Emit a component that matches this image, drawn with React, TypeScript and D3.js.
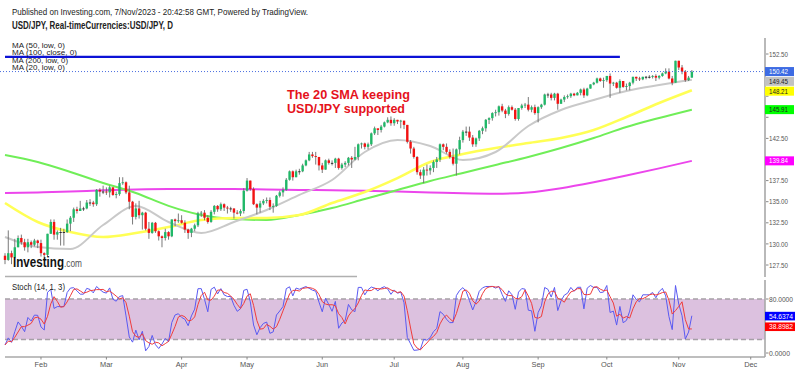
import React, { useEffect, useRef } from 'react'
import * as d3 from 'd3'

// Daily USD/JPY candles, 17 Jan 2023 .. 7 Nov 2023 (weekdays). Open = previous close.
const firstOpen = 128.6
const closes = [
  128.1, 128.9, 128.4, 129.6, 130.7, 130.2, 129.6, 130.2, 129.9, 130.4, 130.1,
  128.9, 128.7, 131.2, 132.6, 131.1, 131.4, 131.4, 131.4, 132.4, 133.1, 134.1, 133.9, 134.2, 134.2, 134.9, 134.9, 134.7, 136.4, 136.2, 136.2,
  136.1, 136.7, 135.8, 135.9, 137.2, 137.3, 136.1, 135.0, 133.2, 134.2, 133.4, 133.7, 131.8, 131.3, 132.5, 131.5, 130.9, 130.7, 131.4, 130.9, 132.9, 132.7, 132.8,
  132.5, 131.7, 131.3, 131.8, 132.2, 133.6, 133.7, 133.1, 132.6, 133.8, 134.5, 134.1, 134.7, 134.3, 134.2, 134.2, 133.7, 133.6, 133.9, 136.3,
  137.5, 136.5, 134.7, 134.3, 134.8, 135.1, 135.2, 134.4, 134.5, 135.7, 136.1, 136.4, 137.6, 138.6, 137.9, 138.6, 138.6, 139.3, 139.9, 140.6, 140.4, 140.3, 139.3,
  138.8, 139.9, 139.6, 139.6, 140.1, 139.0, 139.4, 139.6, 140.2, 140.0, 140.3, 141.8, 141.9, 141.5, 141.8, 143.1, 143.7, 143.5, 143.9, 144.4, 144.7, 144.3,
  144.7, 144.5, 144.6, 144.1, 142.1, 141.3, 140.3, 138.5, 138.1, 138.8, 138.7, 139.0, 139.7, 140.0, 141.8, 141.5, 140.9, 140.3, 139.5, 141.2, 142.3,
  143.3, 143.3, 142.6, 141.8, 142.5, 143.4, 143.7, 144.7, 144.9, 145.5, 145.6, 146.3, 145.8, 145.4, 146.2, 145.9, 144.8, 146.1, 146.4, 146.5, 145.9, 146.2, 145.5,
  146.2, 146.5, 147.7, 147.7, 147.3, 147.8, 146.6, 147.1, 147.4, 147.5, 147.8, 147.6, 147.9, 148.3, 147.6, 148.4, 148.9, 149.1, 149.6, 149.3, 149.4,
  149.9, 149.0, 149.1, 148.5, 149.3, 148.6, 148.7, 149.1, 149.8, 149.6, 149.5, 149.8, 149.8, 149.8, 149.9, 149.7, 149.9, 150.2, 150.4, 149.6, 149.1, 151.7,
  150.9, 150.4, 149.4, 149.7, 150.4,
]
const highs = [
  128.9, 131.6, 129.2, 130.6, 131.0, 131.1, 130.6, 130.6, 130.4, 130.6, 130.5,
  130.5, 129.0, 131.2, 132.9, 132.9, 131.6, 131.9, 131.8, 132.9, 133.3, 134.3, 134.4, 135.1, 134.4, 135.2, 135.3, 135.1, 136.5, 136.6, 136.9,
  136.7, 136.9, 136.7, 136.2, 137.9, 137.9, 137.4, 136.9, 135.1, 134.8, 135.1, 133.8, 133.8, 132.6, 132.6, 132.6, 131.6, 131.0, 131.8, 131.5, 132.9, 133.0, 133.6,
  133.4, 132.8, 131.8, 131.9, 132.4, 133.8, 133.9, 134.0, 133.4, 134.0, 134.6, 134.6, 134.9, 134.8, 134.5, 134.4, 134.2, 134.0, 134.1, 136.6,
  137.8, 137.5, 136.7, 134.8, 135.1, 135.3, 135.5, 135.5, 134.8, 135.8, 136.3, 136.7, 137.8, 138.7, 138.7, 138.8, 138.9, 139.5, 140.0, 140.9, 140.9, 140.9, 140.3,
  139.6, 140.0, 140.1, 139.9, 140.2, 140.2, 139.6, 139.8, 140.3, 140.4, 141.5, 141.9, 142.0, 142.0, 142.0, 143.2, 143.9, 143.6, 144.1, 144.5, 145.0, 145.1,
  144.9, 144.7, 144.7, 144.6, 144.1, 142.3, 141.5, 140.4, 138.8, 139.1, 139.4, 139.3, 139.9, 140.3, 141.9, 141.9, 141.9, 141.2, 141.3, 141.3, 142.7,
  143.5, 143.9, 143.9, 142.9, 142.6, 143.5, 143.9, 144.8, 145.0, 145.6, 145.9, 146.4, 146.6, 146.0, 146.4, 146.4, 146.1, 146.1, 146.6, 146.7, 147.4, 146.4, 146.5,
  146.3, 146.6, 147.8, 147.9, 147.9, 147.9, 147.9, 147.2, 147.6, 147.7, 147.9, 147.9, 148.0, 148.4, 148.5, 148.5, 148.9, 149.2, 149.7, 149.7, 149.7,
  149.9, 150.2, 149.2, 149.2, 149.5, 149.3, 149.0, 149.2, 149.8, 149.8, 149.8, 149.8, 149.9, 150.0, 150.0, 150.1, 150.0, 150.3, 150.8, 150.8, 149.9, 151.7,
  151.7, 151.2, 150.6, 149.9, 150.6,
]
const lows = [
  127.6, 128.0, 127.6, 128.3, 129.6, 129.9, 129.2, 129.0, 129.5, 129.7, 129.5,
  128.5, 128.1, 128.5, 131.2, 130.5, 130.5, 129.8, 129.8, 131.3, 131.5, 132.6, 133.6, 133.9, 133.9, 134.1, 134.5, 134.4, 134.5, 135.6, 135.9,
  135.8, 135.5, 135.7, 135.4, 135.7, 137.0, 135.9, 134.1, 132.3, 132.9, 133.0, 131.7, 131.6, 130.6, 131.2, 131.3, 130.4, 129.6, 130.4, 130.5, 130.8, 132.1, 132.5,
  132.4, 131.3, 130.6, 130.8, 131.5, 132.0, 133.2, 132.8, 132.4, 132.5, 133.5, 133.8, 133.9, 133.9, 133.6, 133.8, 133.0, 133.5, 133.3, 133.6,
  136.2, 136.3, 134.6, 133.5, 133.7, 134.6, 134.8, 134.0, 133.7, 134.4, 135.5, 135.6, 136.3, 137.5, 137.5, 137.9, 138.2, 138.5, 139.2, 139.8, 140.2, 139.4, 138.7,
  138.4, 138.8, 139.4, 139.3, 139.0, 138.8, 138.8, 139.1, 139.3, 139.0, 139.9, 139.9, 141.3, 141.2, 141.2, 141.6, 142.9, 142.9, 143.2, 143.8, 144.3, 144.0,
  144.0, 144.2, 143.7, 143.6, 141.9, 140.7, 140.1, 138.2, 137.7, 137.2, 138.1, 138.2, 138.5, 139.0, 139.7, 141.1, 140.7, 140.1, 139.3, 138.1, 140.6,
  142.0, 142.8, 142.2, 141.5, 141.5, 142.2, 143.0, 143.3, 144.2, 144.6, 145.1, 145.2, 145.6, 144.9, 145.2, 145.8, 144.6, 144.6, 145.9, 146.1, 145.7, 145.6, 145.3,
  144.4, 146.0, 146.4, 147.3, 147.0, 147.0, 145.9, 146.6, 146.8, 147.2, 147.3, 147.5, 147.6, 147.6, 147.3, 147.5, 148.4, 148.8, 149.0, 149.2, 148.5,
  149.2, 147.3, 148.7, 148.4, 147.9, 148.5, 148.2, 148.2, 148.9, 149.3, 149.3, 149.4, 149.5, 149.6, 149.6, 149.3, 149.5, 149.8, 150.1, 149.5, 148.8, 149.1,
  150.6, 150.1, 149.2, 149.3, 149.7,
]

// 15 sessions before the first visible candle, only used to seed the stochastic
const preCloses = [133.5, 134.4, 133.0, 131.1, 130.7, 131.0, 132.4, 133.4, 132.1, 131.9, 132.3, 132.4, 129.2, 127.9, 128.6]
const preHighs = [133.6, 134.5, 134.3, 133.0, 131.4, 131.5, 132.7, 134.0, 134.8, 132.7, 132.4, 132.9, 132.4, 129.3, 128.9]
const preLows = [132.6, 133.2, 132.6, 130.8, 129.5, 129.5, 129.9, 132.1, 132.0, 131.5, 131.6, 131.8, 128.9, 127.5, 127.2]

// moving averages every 10 sessions
const maIndex = [0, 10, 20, 30, 40, 50, 60, 70, 80, 90, 100, 110, 120, 130, 140, 150, 160, 170, 180, 190, 200, 210]
const ma20 = [130.82, 129.63, 129.4, 132.24, 134.49, 132.6, 131.29, 132.6, 134.02, 135.8, 137.57, 140.89, 142.31, 141.6, 139.94, 140.89, 143.97, 145.87, 147.05, 148.12, 148.83, 149.45]
const ma50 = [134.85, 132.6, 131.41, 130.82, 131.29, 132.0, 132.83, 133.07, 133.07, 133.42, 134.85, 136.15, 137.8, 139.7, 140.65, 141.36, 141.95, 142.55, 143.5, 145.04, 146.7, 148.21]
const ma100 = [140.53, 139.7, 138.52, 137.22, 136.03, 134.5, 133.42, 132.95, 132.83, 133.42, 134.25, 135.32, 136.39, 137.45, 138.4, 139.35, 140.3, 141.36, 142.55, 143.85, 144.92, 145.91]
const ma200 = [136.03, 136.1, 136.2, 136.35, 136.45, 136.5, 136.5, 136.5, 136.45, 136.4, 136.35, 136.3, 136.2, 136.1, 136.0, 135.95, 136.1, 136.6, 137.3, 138.1, 138.95, 139.84]

const priceTicks = [127.5, 130, 132.5, 135, 137.5, 140, 142.5, 145, 147.5, 150, 152.5]
const stochTicks = [0, 80]
const monthLabels = ['Feb', 'Mar', 'Apr', 'May', 'Jun', 'Jul', 'Aug', 'Sep', 'Oct', 'Nov', 'Dec']

const lastPrice = 150.42
const resistance = 152.15
const resistanceEnd = 188
const tagValues = [150.42, 149.45, 148.21, 145.91, 139.84]
const tagFills = ['#3d6be3', '#c2c2c2', '#ffff00', '#00ff00', '#ff00ff']
const tagInks = ['#fff', '#222', '#222', '#222', '#fff']
const stochTagValues = [54.6374, 38.8982]
const stochTagFills = ['#0000ff', '#ff0000']

const legend = ['MA (50, low, 0)', 'MA (100, close, 0)', 'MA (200, low, 0)', 'MA (20, low, 0)']
const legendWidths = [53, 65, 56, 53]

const FONT = '"Liberation Sans", Arial, sans-serif'

function text(g: any, s: string, x: number, y: number, size: number, len?: number) {
  const t = g.append('text').attr('x', x).attr('y', y).style('font-size', size + 'px').text(s)
  if (len) t.attr('textLength', len).attr('lengthAdjust', 'spacingAndGlyphs')
  return t
}

export default function App() {
  const svgRef = useRef<SVGSVGElement>(null)

  useEffect(() => {
    if (!svgRef.current) return
    const svg = d3.select(svgRef.current)
    svg.selectAll('*').remove()

    const x = d3.scaleLinear().domain([0, 229]).range([5, 754])
    const y = d3.scaleLinear().domain([127.5, 152.5]).range([265, 54])
    const ys = d3.scaleLinear().domain([0, 80]).range([353, 299])
    const axisX = 765

    // trading days (weekdays) from the first candle to the end of the axis
    const days: Date[] = []
    for (let d = new Date(2023, 0, 17); d <= new Date(2023, 11, 8); d = d3.timeDay.offset(d, 1)) {
      if (d.getDay() !== 0 && d.getDay() !== 6) days.push(d)
    }

    svg.append('rect').attr('width', 800).attr('height', 371).attr('fill', '#fff')

    // header
    const head = svg.append('g').attr('fill', '#222')
    text(head, 'Published on Investing.com, 7/Nov/2023 - 20:42:58 GMT, Powered by TradingView.', 12, 14.5, 9.8, 296)
    text(head, 'USD/JPY, Real-timeCurrencies:USD/JPY, D', 12, 29.3, 10, 161).style('font-weight', '700')

    const defs = svg.append('defs')
    defs.append('clipPath').attr('id', 'plot').append('rect').attr('x', 0).attr('y', 36).attr('width', axisX).attr('height', 240)
    defs.append('clipPath').attr('id', 'stoch').append('rect').attr('x', 0).attr('y', 280).attr('width', axisX).attr('height', 77)

    const plot = svg.append('g').attr('clip-path', 'url(#plot)')

    // moving averages
    const maLine = d3.line<number>().x((_, i) => x(maIndex[i])).y(v => y(v)).curve(d3.curveMonotoneX)
    const maSeries: [number[], string, number][] = [
      [ma200, '#ec46ec', 2],
      [ma100, '#70ee58', 2],
      [ma50, '#ffff55', 2.6],
      [ma20, '#c9c9c9', 2],
    ]
    maSeries.forEach(([vals, color, w]) => {
      plot.append('path').attr('d', maLine(vals)).attr('fill', 'none').attr('stroke', color).attr('stroke-width', w)
    })

    // candles
    const candles = closes.map((c, i) => ({ i, o: i ? closes[i - 1] : firstOpen, h: highs[i], l: lows[i], c }))
    const colorOf = (d: any) => Math.abs(d.c - d.o) < 0.05 ? '#222' : d.c > d.o ? '#20b868' : '#f21212'
    plot.selectAll('line.wick').data(candles).join('line')
      .attr('x1', d => x(d.i)).attr('x2', d => x(d.i))
      .attr('y1', d => y(d.h)).attr('y2', d => y(d.l))
      .attr('stroke', '#6a6a6a').attr('stroke-width', 0.9)
    plot.selectAll('rect.body').data(candles).join('rect')
      .attr('x', d => x(d.i) - 1.2).attr('width', 2.4)
      .attr('y', d => y(Math.max(d.o, d.c)))
      .attr('height', d => Math.max(0.9, Math.abs(y(d.o) - y(d.c))))
      .attr('fill', colorOf)

    // resistance line and last price line
    plot.append('line').attr('x1', x(0)).attr('x2', x(resistanceEnd))
      .attr('y1', y(resistance)).attr('y2', y(resistance))
      .attr('stroke', '#0c12d6').attr('stroke-width', 2.2)
    svg.append('line').attr('x1', 0).attr('x2', axisX).attr('y1', y(lastPrice)).attr('y2', y(lastPrice))
      .attr('stroke', '#4b6fe0').attr('stroke-width', 1).attr('stroke-dasharray', '1,2')

    // legend
    const leg = svg.append('g').attr('fill', '#222')
    legend.forEach((s, i) => text(leg, s, 12, 47.5 + i * 7.6, 7.6, legendWidths[i]))

    // annotation
    const note = svg.append('g').attr('fill', '#e5121c').style('font-weight', '700')
    text(note, 'The 20 SMA keeping', 287, 99, 13.2, 123)
    text(note, 'USD/JPY supported', 287, 113, 13.2, 118)

    // watermark: one text, squeezed horizontally like the original
    const mark = svg.append('text').attr('transform', 'translate(13,267) scale(0.83,1)')
    mark.append('tspan').attr('fill', '#111').style('font-weight', '700').style('font-size', '14px').text('Investing')
    mark.append('tspan').attr('fill', '#555').style('font-size', '10px').text('.com')
    svg.append('line').attr('x1', 5).attr('x2', 357).attr('y1', 276.5).attr('y2', 276.5)
      .attr('stroke', '#b0b0b0').attr('stroke-width', 1.4)

    // price axis
    svg.append('line').attr('x1', axisX).attr('x2', axisX).attr('y1', 38).attr('y2', 277)
      .attr('stroke', '#a8a8a8').attr('stroke-width', 1.6)

    // value tags, pushed apart so they do not overlap
    const tagY: number[] = []
    let prev = -Infinity
    tagValues.forEach(v => {
      const cy = Math.max(y(v), prev + 9.8)
      prev = cy
      tagY.push(cy)
    })

    const pa = svg.append('g').attr('fill', '#555')
    priceTicks.forEach(v => {
      pa.append('line').attr('x1', axisX + 1).attr('x2', axisX + 3.5).attr('y1', y(v)).attr('y2', y(v)).attr('stroke', '#888')
      // labels sitting under a value tag are hidden, as in the original
      if (tagY.some(t => Math.abs(t - y(v)) < 8)) return
      text(pa, v.toFixed(2), 769, y(v) + 2.6, 7.2, 19)
    })

    tagValues.forEach((v, i) => {
      const cy = tagY[i]
      svg.append('rect').attr('x', axisX).attr('y', cy - 4.5).attr('width', 29).attr('height', 9).attr('fill', tagFills[i])
      text(svg, v.toFixed(2), 769, cy + 2.6, 7.2, 19).attr('fill', tagInks[i])
    })

    // stochastic panel
    const stoch = svg.append('g')
    stoch.append('rect').attr('x', 5).attr('width', axisX - 5)
      .attr('y', ys(80)).attr('height', ys(20) - ys(80)).attr('fill', '#dcc1df')
    ;[80, 20].forEach(v => {
      stoch.append('line').attr('x1', 5).attr('x2', axisX).attr('y1', ys(v)).attr('y2', ys(v))
        .attr('stroke', '#a6a0a6').attr('stroke-width', 1.4).attr('stroke-dasharray', '5,3')
    })

    const allH = [...preHighs, ...highs]
    const allL = [...preLows, ...lows]
    const allC = [...preCloses, ...closes]
    const pre = preCloses.length
    const k = allC.map((c, i) => {
      if (i < 13) return NaN
      const hh = d3.max(allH.slice(i - 13, i + 1)) as number
      const ll = d3.min(allL.slice(i - 13, i + 1)) as number
      return (100 * (c - ll)) / (hh - ll)
    })
    const dLine = k.map((v, i) => (i < 15 ? NaN : (k[i] + k[i - 1] + k[i - 2]) / 3))
    const visK = k.slice(pre)
    const visD = dLine.slice(pre)
    const sLine = d3.line<number>().x((_, i) => x(i)).y(v => ys(v))
    const sg = stoch.append('g').attr('clip-path', 'url(#stoch)')
    sg.append('path').attr('d', sLine(visK)).attr('fill', 'none').attr('stroke', '#5a5af2').attr('stroke-width', 1)
    sg.append('path').attr('d', sLine(visD)).attr('fill', 'none').attr('stroke', '#f03c3c').attr('stroke-width', 1)

    text(stoch, 'Stoch (14, 1, 3)', 12, 290, 8.5, 53).attr('fill', '#222')

    svg.append('line').attr('x1', axisX).attr('x2', axisX).attr('y1', 280).attr('y2', 357)
      .attr('stroke', '#a8a8a8').attr('stroke-width', 1.6)
    stochTicks.forEach(v => {
      stoch.append('line').attr('x1', axisX + 1).attr('x2', axisX + 3.5).attr('y1', ys(v)).attr('y2', ys(v)).attr('stroke', '#888')
      text(stoch, v.toFixed(4), 769, ys(v) + 2.6, 7.2, v ? 24 : 21).attr('fill', '#555')
    })
    let prevS = -Infinity
    stochTagValues.forEach((v, i) => {
      const cy = Math.max(ys(v), prevS + 9.5)
      prevS = cy
      svg.append('rect').attr('x', axisX).attr('y', cy - 4.3).attr('width', 30).attr('height', 8.6).attr('fill', stochTagFills[i])
      text(svg, v.toFixed(4), 769, cy + 2.6, 7.2, 24).attr('fill', '#fff')
    })

    // time axis
    svg.append('line').attr('x1', 5).attr('x2', axisX).attr('y1', 357).attr('y2', 357)
      .attr('stroke', '#a8a8a8').attr('stroke-width', 1.4)
    const ta = svg.append('g').attr('fill', '#555')
    monthLabels.forEach((m, mi) => {
      const idx = days.findIndex(d => d.getMonth() === mi + 1)
      ta.append('line').attr('x1', x(idx)).attr('x2', x(idx)).attr('y1', 357).attr('y2', 359.5).attr('stroke', '#888')
      text(ta, m, x(idx), 366.5, 7.4).attr('text-anchor', 'middle')
    })
  }, [])

  return (
    <svg
      ref={svgRef}
      width={800}
      height={371}
      style={{ position: 'absolute', left: 0, top: 0, fontFamily: FONT, display: 'block' }}
    />
  )
}
